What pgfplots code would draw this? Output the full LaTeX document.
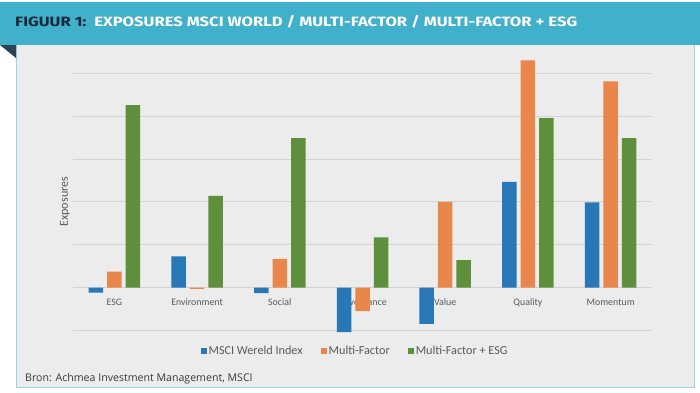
\documentclass[border=0pt]{standalone}
\usepackage{pgfplots}
\pgfplotsset{compat=1.18}
\usepackage{fontspec}
\usepackage{graphicx}
\setmainfont{Carlito}
\newfontfamily\titlefont{Fira Sans}
\newfontfamily\sourcefont{Open Sans}
\definecolor{banner}{HTML}{40B0CB}
\definecolor{panel}{HTML}{ECECEC}
\definecolor{panelborder}{HTML}{9FD3E1}
\definecolor{fold}{HTML}{2C4257}
\definecolor{navy}{HTML}{1B2A3A}
\definecolor{gridgray}{HTML}{D3D3D3}
\definecolor{labelgray}{HTML}{595959}
\definecolor{cblue}{HTML}{2878B8}
\definecolor{corange}{HTML}{E9864B}
\definecolor{cgreen}{HTML}{5E8F3C}
\pgfplotsset{/pgfplots/ybar legend/.style={/pgfplots/legend image code/.code={\fill[##1] (0pt,-2.75pt) rectangle (5.5pt,2.75pt);}}}
\begin{document}
\begin{tikzpicture}
\path[use as bounding box] (0pt,0pt) rectangle (700pt,392pt);
\fill[white] (0pt,0pt) rectangle (700pt,392pt);
\fill[banner] (0pt,390pt) rectangle (700pt,347pt);
\fill[panel] (16pt,5pt) rectangle (694pt,347pt);
\draw[panelborder, line width=0.8pt] (16pt,347pt) -- (16pt,5pt) -- (694pt,5pt) -- (694pt,347pt);
\fill[fold] (0pt,347pt) -- (16pt,347pt) -- (16pt,334pt) -- cycle;
\node[anchor=west, inner sep=0pt] at (15pt,370pt) {\resizebox{562pt}{11pt}{\titlefont\bfseries\textcolor{navy}{FIGUUR 1:}\ \ \textcolor{white}{EXPOSURES MSCI WORLD / MULTI-FACTOR / MULTI-FACTOR + ESG}}};
\begin{axis}[
  at={(73pt,57.4pt)}, anchor=south west,
  scale only axis, width=579pt, height=280.3pt,
  ybar=4pt, bar width=14.5pt,
  xmin=-0.5, xmax=6.5, ymin=-1.1, ymax=5.45,
  clip=false,
  axis line style={draw=none},
  tick style={draw=none},
  xtick={0,...,6},
  xticklabels={ESG,Environment,Social,Governance,Value,Quality,Momentum},
  xticklabel style={anchor=center, yshift=36.6pt, text height=1.5ex, text depth=0.25ex, font=\fontsize{9.9}{11}\selectfont, text=labelgray},
  ytick={-1,0,...,5}, yticklabels={},
  ymajorgrids, grid style={draw=gridgray, line width=0.9pt},
  legend style={at={(0.4877,-0.0585)}, anchor=center, legend columns=-1, draw=none, fill=none,
    font=\fontsize{12.2}{14}\selectfont, text=labelgray,
    /tikz/every even column/.append style={column sep=16.5pt}},
]
\addplot[fill=cblue, draw=none] coordinates {(0,-0.12) (1,0.73) (2,-0.13) (3,-1.04) (4,-0.85) (5,2.47) (6,1.99)};
\addplot[fill=corange, draw=none] coordinates {(0,0.37) (1,-0.03) (2,0.67) (3,-0.55) (4,2.00) (5,5.31) (6,4.82)};
\addplot[fill=cgreen, draw=none] coordinates {(0,4.26) (1,2.14) (2,3.49) (3,1.17) (4,0.64) (5,3.96) (6,3.49)};
\legend{MSCI Wereld Index, Multi-Factor, Multi-Factor + ESG}
\end{axis}
\node[rotate=90, font=\fontsize{12.1}{14}\selectfont, text=labelgray] at (65pt,190.3pt) {Exposures};
\node[anchor=west, inner sep=0pt, font=\sourcefont\fontsize{10.6}{13}\selectfont, text=black!78] at (25pt,13pt) {Bron: Achmea Investment Management, MSCI};
\end{tikzpicture}
\end{document}
